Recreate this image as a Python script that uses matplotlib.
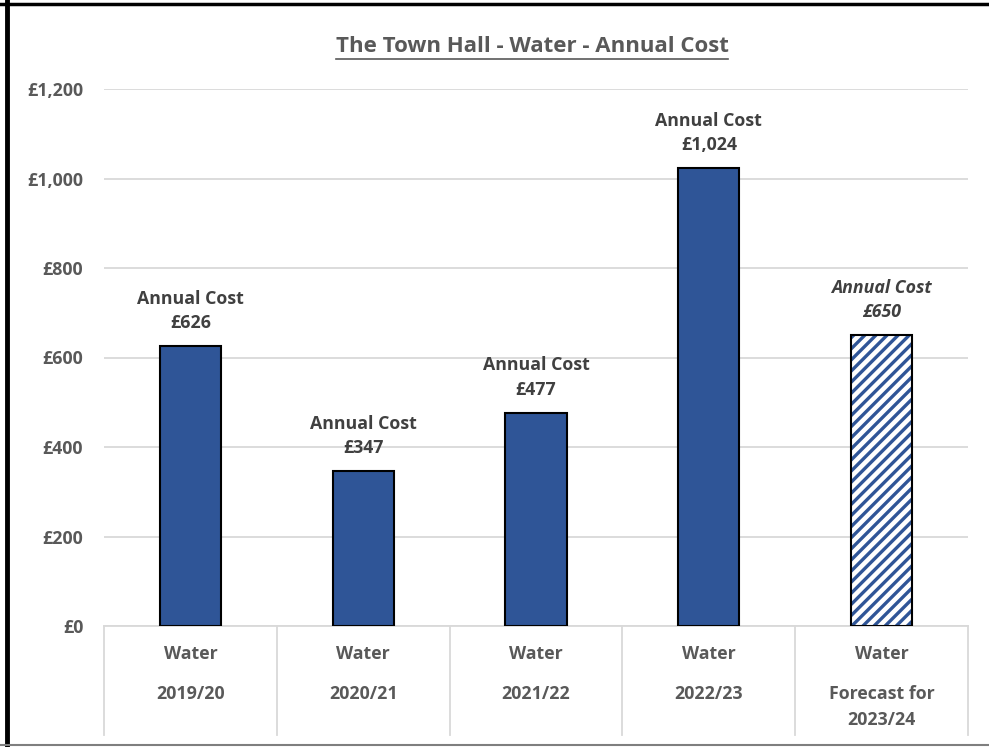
import numpy as np
import matplotlib
matplotlib.use("Agg")
import matplotlib.pyplot as plt
from matplotlib.lines import Line2D

plt.rcParams['font.family'] = ['Open Sans', 'DejaVu Sans']
plt.rcParams['hatch.linewidth'] = 2.4

# data
years = ['2019/20', '2020/21', '2021/22', '2022/23', 'Forecast for\n2023/24']
utility = ['Water', 'Water', 'Water', 'Water', 'Water']
costs = [626, 347, 477, 1024, 650]
forecast = [False, False, False, False, True]
yticks = [0, 200, 400, 600, 800, 1000, 1200]

W, H = 989, 747
blue = '#2F5597'
grey_txt = '#595959'
grid_c = '#D9D9D9'
fs = 12.8

fig = plt.figure(figsize=(W / 100, H / 100), dpi=100)
ax = fig.add_axes([104 / W, (H - 626) / H, (968 - 104) / W, (626 - 89) / H])

x = np.arange(len(costs))
for i, (c, f) in enumerate(zip(costs, forecast)):
    if f:
        ax.bar(x[i], c, width=0.355, color='white', edgecolor=blue, hatch='///', linewidth=0, zorder=3)
        ax.bar(x[i], c, width=0.355, fill=False, edgecolor='black', linewidth=1.5, zorder=4)
    else:
        ax.bar(x[i], c, width=0.355, color=blue, edgecolor='black', linewidth=1.5, zorder=3)
    lab = 'Annual Cost\n£{:,}'.format(c)
    ax.annotate(lab, (x[i], c), xytext=(0, 10), textcoords='offset points', ha='center', va='bottom',
                fontsize=fs, fontweight='bold', color='#404040', linespacing=1.45,
                style='italic' if f else 'normal')

ax.set_xlim(-0.5, len(costs) - 0.5)
ax.set_ylim(0, 1200)
ax.set_yticks(yticks)
ax.set_yticklabels(['£{:,}'.format(v) for v in yticks], fontsize=fs, fontweight='bold', color=grey_txt)
ax.tick_params(axis='y', length=0, pad=15)
ax.set_xticks([])
ax.grid(axis='y', color=grid_c, linewidth=1.3, zorder=0)
for s in ['top', 'right', 'left']:
    ax.spines[s].set_visible(False)
ax.spines['bottom'].set_color(grid_c)
ax.spines['bottom'].set_linewidth(1.3)

# category table under the axis
trans = ax.get_xaxis_transform()
ph = 626 - 89
for b in np.arange(len(costs) + 1) - 0.5:
    ax.add_line(Line2D([b, b], [0, -(735 - 626) / ph], transform=trans, color=grid_c, lw=1.3, clip_on=False))
for i in range(len(costs)):
    ax.text(x[i], -(654 - 626) / ph, utility[i], transform=trans, ha='center', va='center',
            fontsize=fs, fontweight='bold', color=grey_txt)
    for k, line in enumerate(years[i].split('\n')):
        ax.text(x[i], -(694 + 26 * k - 626) / ph, line, transform=trans, ha='center', va='center',
                fontsize=fs, fontweight='bold', color=grey_txt)

# title with underline
t = fig.text(532 / W, 1 - 47 / H, 'The Town Hall - Water - Annual Cost', ha='center', va='center',
             fontsize=16, fontweight='bold', color=grey_txt)
fig.canvas.draw()
bb = t.get_window_extent()
fig.add_artist(Line2D([bb.x0 / W, bb.x1 / W], [(H - 59) / H] * 2, color=grey_txt, lw=1.2))

# outer frame
fig.add_artist(Line2D([7 / W, 7 / W], [0, 1], color='black', lw=3.5))
fig.add_artist(Line2D([0, 1], [1 - 4 / H, 1 - 4 / H], color='black', lw=2.5))
fig.add_artist(Line2D([0, 1], [2 / H, 2 / H], color='#7F7F7F', lw=1.5))

fig.savefig('out.png', dpi=100)
